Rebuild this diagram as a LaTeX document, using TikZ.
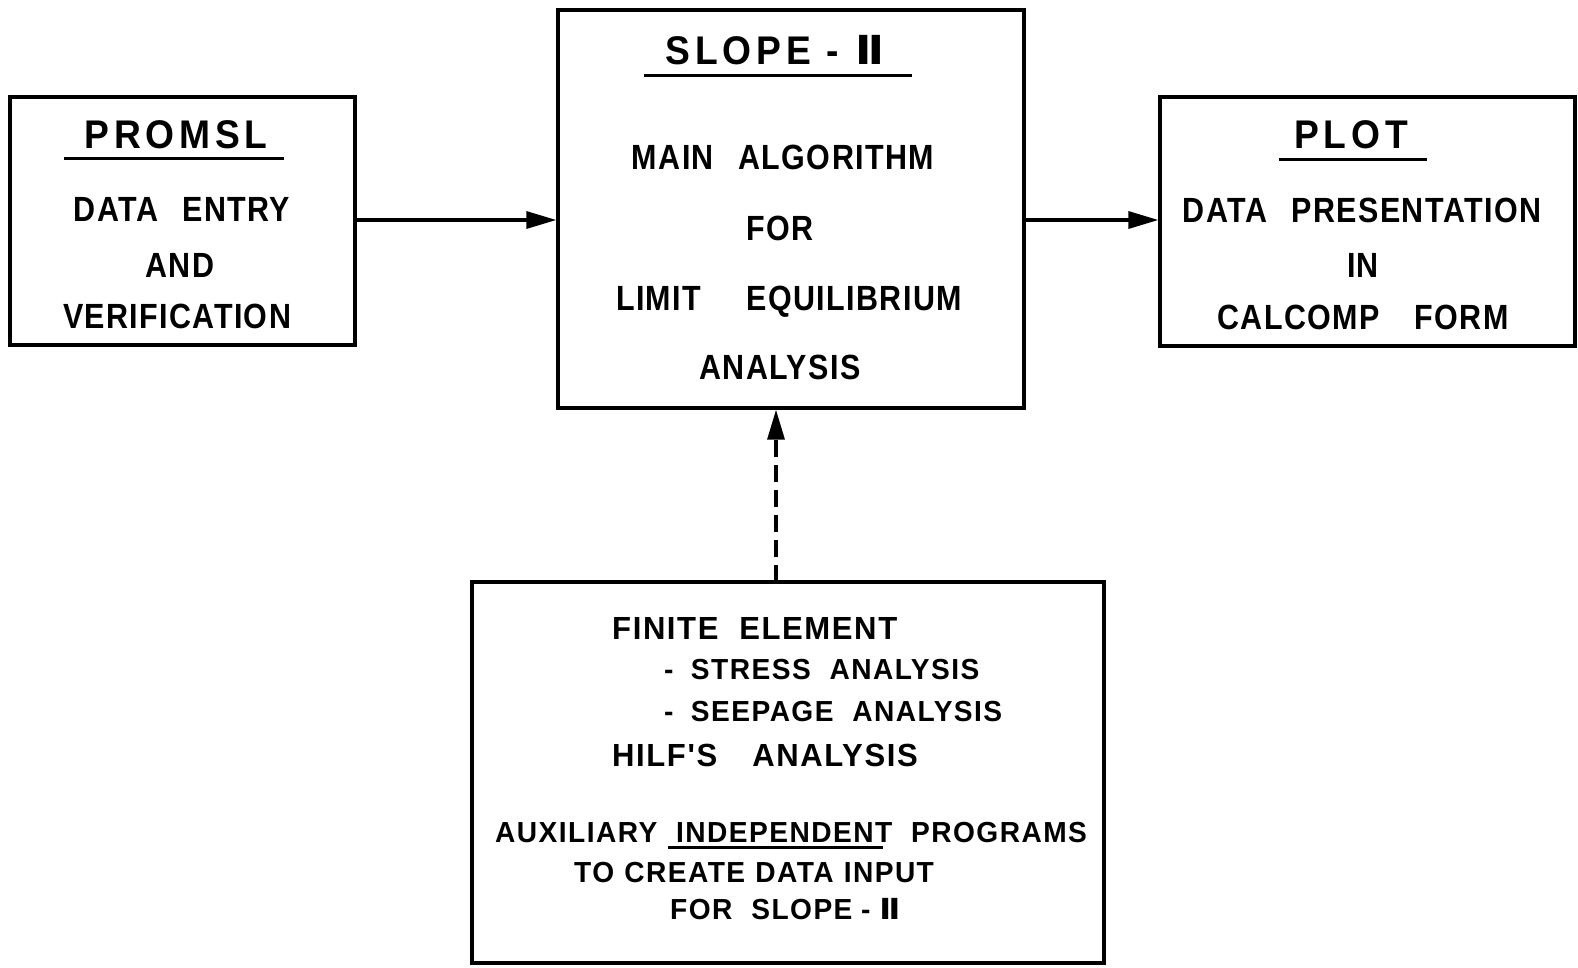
\documentclass[tikz,border=0pt]{standalone}
\usepackage{fontspec}
\setmainfont{Liberation Sans}[Ligatures=TeXOff]
\newfontfamily\bodyfam{Liberation Sans}[Ligatures=TeXOff,LetterSpace=4,FakeStretch=0.87]
\newfontfamily\ttlfam{Liberation Sans}[Ligatures=TeXOff,LetterSpace=12,FakeStretch=0.93]
\newfontfamily\auxfam{Liberation Sans}[Ligatures=TeXOff,LetterSpace=5,FakeStretch=0.97]
\newfontfamily\rmnfam{DejaVu Sans}[FakeStretch=1.1]
\usetikzlibrary{arrows.meta}
\newcommand{\ttlfont}{\ttlfam\bfseries\fontsize{40}{46}\selectfont\spaceskip=0.5em\relax}
\newcommand{\bodyfont}{\bodyfam\bfseries\fontsize{35}{40}\selectfont\spaceskip=0.7em\relax}
\newcommand{\auxfont}{\auxfam\bfseries\fontsize{29}{34}\selectfont\spaceskip=0.65em\relax}
\newcommand{\auxtight}{\auxfam\bfseries\fontsize{29}{34}\selectfont\spaceskip=0.35em\relax}
\newcommand{\auxbig}{\auxfam\bfseries\fontsize{32}{36}\selectfont\spaceskip=0.65em\relax}
\newcommand{\two}{{\rmnfam\bfseries Ⅱ}}
\begin{document}
\begin{tikzpicture}[x=1pt,y=-1pt,
  box/.style={draw,line width=3.3pt,inner sep=0pt,minimum width=#1},
  ttl/.style={inner sep=0pt,anchor=base,font=\ttlfont},
  body/.style={inner sep=0pt,anchor=base,font=\bodyfont},
  auxl/.style={inner sep=0pt,anchor=base west,font=\auxfont},
  auxt/.style={inner sep=0pt,anchor=base west,font=\auxtight},
  auxb/.style={inner sep=0pt,anchor=base west,font=\auxbig},
  uline/.style={line width=3pt},
  conn/.style={line width=3.3pt,-{Triangle[length=30pt,width=17pt]}},
  dconn/.style={conn,dash pattern=on 17pt off 8pt}]
\useasboundingbox[fill=white] (0,0) rectangle (1578,967);
% boxes
\node[box=345pt,minimum height=248pt] (promsl) at (182.5,221) {};
\node[box=466pt,minimum height=398pt] (slope) at (791,209) {};
\node[box=415pt,minimum height=249pt] (plot) at (1367.5,221.5) {};
\node[box=632pt,minimum height=381pt] (aux) at (788,772.5) {};
% PROMSL text
\node[ttl] (t1) at (176,148) {PROMSL};
\draw[uline] (64,158) -- (284,158);
\node[body] (p1) at (182,221) {DATA ENTRY};
\node[body] (p2) at (180,277) {AND};
\node[body] (p3) at (177,328) {VERIFICATION};
% SLOPE-II text
\node[ttl] (t2) at (775,64) {SLOPE\hspace{0.4em}-\hspace{0.4em}\two};
\draw[uline] (644,75.5) -- (912,75.5);
\node[body] (s1) at (783,169) {MAIN ALGORITHM};
\node[body] (s2) at (780,240) {FOR};
\node[body] (s3) at (789,310) {LIMIT\hspace{1.3em}EQUILIBRIUM};
\node[body] (s4) at (780,379) {ANALYSIS};
% PLOT text
\node[ttl] (t3) at (1351,148) {PLOT};
\draw[uline] (1279,159) -- (1427,159);
\node[body] (q1) at (1362,222) {DATA PRESENTATION};
\node[body] (q2) at (1363,277) {IN};
\node[body] (q3) at (1363,329) {CALCOMP\hspace{1.0em}FORM};
% auxiliary text
\node[auxb] (a1) at (612,639) {FINITE ELEMENT};
\node[auxl] (a2) at (664,679) {-\hspace{0.6em}STRESS ANALYSIS};
\node[auxl] (a3) at (664,721) {-\hspace{0.6em}SEEPAGE ANALYSIS};
\node[auxb] (a4) at (612,766) {HILF'S\hspace{1.1em}ANALYSIS};
\node[auxl] (a5) at (495,842) {AUXILIARY INDEPENDENT PROGRAMS};
\draw[uline] (668,847) -- (883,847);
\node[auxt] (a6) at (574,882) {TO CREATE DATA INPUT};
\node[auxl] (a7) at (670,919) {FOR SLOPE\hspace{0.3em}-\hspace{0.3em}\two};
% connectors
\draw[conn] (promsl.east |- 0,220) -- (slope.west |- 0,220);
\draw[conn] (slope.east |- 0,220) -- (plot.west |- 0,220);
\coordinate (d0) at (776,582);
\draw[dconn] (d0) -- (d0 |- slope.south);
\end{tikzpicture}
\end{document}
